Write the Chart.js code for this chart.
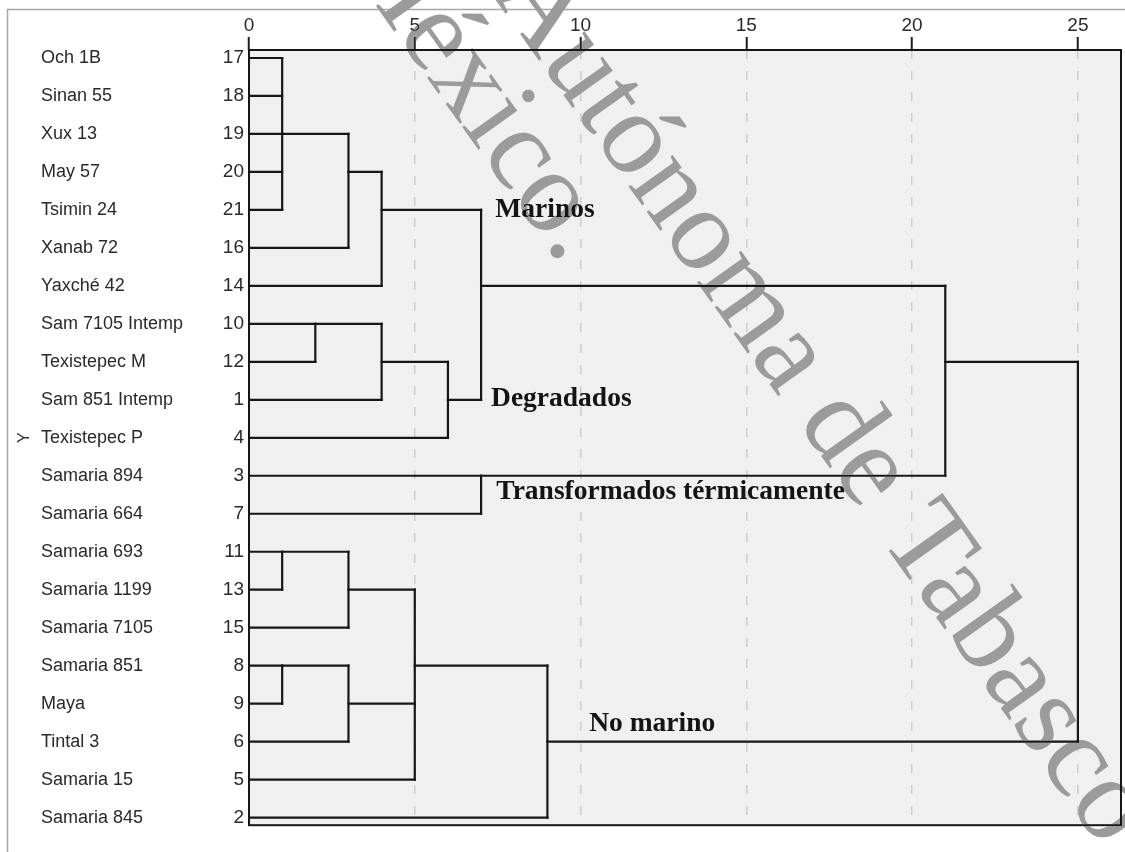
<!DOCTYPE html>
<html>
<head>
<meta charset="utf-8">
<title>Dendrograma</title>
<script src="https://cdn.jsdelivr.net/npm/chart.js@4.4.1/dist/chart.umd.min.js"></script>
<style>
  html, body { margin: 0; padding: 0; background: #ffffff; }
  canvas { display: block; }
</style>
</head>
<body>
<canvas id="dendro" width="1125" height="852"></canvas>
<script>
// Samples in dendrogram order (top to bottom) and their case numbers
const leafNames = [
  'Och 1B', 'Sinan 55', 'Xux 13', 'May 57', 'Tsimin 24', 'Xanab 72', 'Yaxché 42',
  'Sam 7105 Intemp', 'Texistepec M', 'Sam 851 Intemp', 'Texistepec P',
  'Samaria 894', 'Samaria 664',
  'Samaria 693', 'Samaria 1199', 'Samaria 7105', 'Samaria 851', 'Maya', 'Tintal 3',
  'Samaria 15', 'Samaria 845'
];
const leafIds = [17, 18, 19, 20, 21, 16, 14, 10, 12, 1, 4, 3, 7, 11, 13, 15, 8, 9, 6, 5, 2];

// Agglomeration steps: members joined (case numbers or earlier step "mN")
const clusterMembers = [
  ['17', '18', '19', '20', '21'], // m0
  ['m0', '16'],                   // m1
  ['m1', '14'],                   // m2
  ['10', '12'],                   // m3
  ['m3', '1'],                    // m4
  ['m4', '4'],                    // m5
  ['m2', 'm5'],                   // m6
  ['3', '7'],                     // m7
  ['m6', 'm7'],                   // m8
  ['11', '13'],                   // m9
  ['m9', '15'],                   // m10
  ['8', '9'],                     // m11
  ['m11', '6'],                   // m12
  ['m10', 'm12', '5'],            // m13
  ['m13', '2'],                   // m14
  ['m8', 'm14']                   // m15
];
// Rescaled distance at which each step joins
const clusterHeights = [1, 3, 4, 2, 4, 6, 7, 7, 21, 1, 3, 1, 3, 5, 9, 25];

const distanceTicks = [0, 5, 10, 15, 20, 25];

// Group names written beside the tree: [rescaled distance, row] of each baseline start
const groupNames = ['Marinos', 'Degradados', 'Transformados térmicamente', 'No marino'];
const groupPlacement = [[7.43, 4.2], [7.3, 9.16], [7.46, 11.61], [10.26, 17.71]];

// ---- build the dendrogram segments ----
const nodes = {};
leafIds.forEach((id, i) => { nodes[String(id)] = { row: i, height: 0 }; });
const segments = [];
clusterMembers.forEach((members, k) => {
  const h = clusterHeights[k];
  const rows = members.map(m => nodes[m].row);
  members.forEach(m => {
    segments.push([{ x: nodes[m].height, y: nodes[m].row }, { x: h, y: nodes[m].row }]);
  });
  const lo = Math.min(...rows), hi = Math.max(...rows);
  segments.push([{ x: h, y: lo }, { x: h, y: hi }]);
  nodes['m' + k] = { row: Math.floor((lo + hi) / 2), height: h };
});

const datasets = segments.map(seg => ({
  data: seg,
  showLine: true,
  borderColor: '#161616',
  borderWidth: 2.2,
  borderCapStyle: 'square',
  pointRadius: 0,
  pointHoverRadius: 0,
  fill: false
}));

Chart.defaults.font.family = '"Liberation Sans", Arial, sans-serif';
Chart.defaults.color = '#222';

const rowMin = -0.21, rowMax = 20.2;

const panelPlugin = {
  id: 'panel',
  beforeDraw(chart) {
    const { ctx, chartArea: a, width, height } = chart;
    ctx.save();
    ctx.fillStyle = '#ffffff';
    ctx.fillRect(0, 0, width, height);
    ctx.strokeStyle = '#a6a6a6';
    ctx.lineWidth = 1.5;
    ctx.strokeRect(7.5, 9.5, width + 10, height + 10);
    ctx.fillStyle = '#f0f0f0';
    ctx.fillRect(a.left, a.top, a.right - a.left, a.bottom - a.top);
    ctx.restore();
  },
  afterDatasetsDraw(chart) {
    const { ctx, chartArea: a, scales } = chart;
    ctx.save();
    ctx.strokeStyle = '#161616';
    ctx.lineWidth = 2;
    ctx.strokeRect(a.left, a.top, a.right - a.left, a.bottom - a.top);
    ctx.fillStyle = '#141414';
    ctx.font = 'bold 27.5px "Liberation Serif", "Times New Roman", serif';
    ctx.textAlign = 'left';
    ctx.textBaseline = 'alphabetic';
    groupNames.forEach((name, i) => {
      const [d, r] = groupPlacement[i];
      ctx.fillText(name, scales.x.getPixelForValue(d), scales.y.getPixelForValue(r));
    });
    ctx.restore();
  },
  afterDraw(chart) {
    // repository watermark, diagonal across the figure
    const { ctx } = chart;
    ctx.save();
    ctx.globalCompositeOperation = 'darken';
    ctx.fillStyle = '#9b9b9b';
    ctx.font = '118px "Liberation Serif", "Times New Roman", serif';
    ctx.textBaseline = 'alphabetic';
    ctx.translate(490, -8);
    ctx.rotate(54.5 * Math.PI / 180);
    ctx.fillText('Autónoma de Tabasco', 0, 0);
    ctx.fillText('México.', -125, 101);
    ctx.restore();
  }
};

new Chart(document.getElementById('dendro'), {
  type: 'scatter',
  data: { datasets },
  plugins: [panelPlugin],
  options: {
    responsive: false,
    animation: false,
    events: [],
    layout: { padding: { left: 41, top: 0, right: 4, bottom: 7 } },
    plugins: { legend: { display: false }, tooltip: { enabled: false } },
    scales: {
      x: {
        type: 'linear',
        position: 'top',
        min: 0,
        max: 26.3,
        afterBuildTicks: s => { s.ticks = distanceTicks.map(v => ({ value: v })); },
        afterFit: s => { s.height = 50; },
        ticks: { font: { size: 19 }, color: '#2a2a2a', padding: 0, maxRotation: 0 },
        grid: {
          drawOnChartArea: true,
          lineWidth: 1.5,
          color: c => (c.tick && c.tick.value === 0) ? 'rgba(0,0,0,0)' : '#cdcdcd',
          tickColor: '#1e1e1e',
          tickWidth: 2,
          tickLength: 13,
          tickBorderDash: []
        },
        border: { display: false, dash: [9, 12] }
      },
      y: {
        type: 'linear',
        position: 'left',
        reverse: true,
        min: rowMin,
        max: rowMax,
        weight: 0,
        afterBuildTicks: s => { s.ticks = leafIds.map((_, i) => ({ value: i })); },
        afterFit: s => { s.width = 49; },
        ticks: {
          font: { size: 19 },
          color: '#2a2a2a',
          padding: 5,
          callback: v => leafIds[v]
        },
        grid: { display: false, drawTicks: false },
        border: { display: false }
      },
      names: {
        type: 'linear',
        position: 'left',
        reverse: true,
        min: rowMin,
        max: rowMax,
        weight: 10,
        afterBuildTicks: s => { s.ticks = leafNames.map((_, i) => ({ value: i })); },
        afterFit: s => { s.width = 159; },
        ticks: {
          font: { size: 18 },
          color: '#2a2a2a',
          padding: 16,
          crossAlign: 'far',
          callback: v => leafNames[v]
        },
        title: {
          display: true,
          text: 'Y',
          font: { size: 16 },
          color: '#333',
          padding: { top: -25.6, bottom: 0 }
        },
        grid: { display: false, drawTicks: false },
        border: { display: false }
      }
    }
  }
});
</script>
</body>
</html>
